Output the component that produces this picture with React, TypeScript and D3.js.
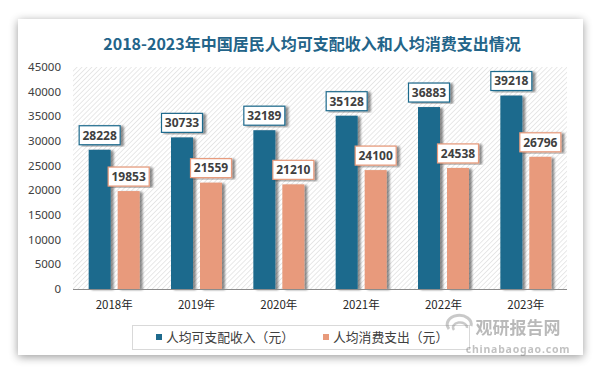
import React from "react";
import * as d3 from "d3";

const years = ["2018年", "2019年", "2020年", "2021年", "2022年", "2023年"];
const income = [28228, 30733, 32189, 35128, 36883, 39218];
const consumption = [19853, 21559, 21210, 24100, 24538, 26796];
const yTicks = [0, 5000, 10000, 15000, 20000, 25000, 30000, 35000, 40000, 45000];
const seriesNames = ["人均可支配收入（元）", "人均消费支出（元）"];
const title = "2018-2023年中国居民人均可支配收入和人均消费支出情况";

const BLUE = "#1e6a8d";
const ORANGE = "#e89a7b";
const CJK = "'Noto Sans CJK SC', 'Noto Sans', sans-serif";
const NUM = "'Noto Sans', 'Open Sans', sans-serif";

export default function App() {
  const W = 600, H = 376;
  const plotL = 73, plotR = 567, plotT = 67, plotB = 289;
  const x = d3.scaleBand<string>().domain(years).range([plotL, plotR]).paddingInner(0).paddingOuter(0);
  const y = d3.scaleLinear().domain([0, 45000]).range([plotB, plotT]);
  const barW = 22, gap = 7;
  const groupW = barW * 2 + gap;
  const series = [
    { vals: income, color: BLUE },
    { vals: consumption, color: ORANGE },
  ];
  return (
    <div style={{ position: "absolute", left: 0, top: 0, width: W, height: H, background: "#fff" }}>
      <svg width={W} height={H} style={{ display: "block" }}>
        <defs>
          <pattern id="hatch" patternUnits="userSpaceOnUse" width="3.5" height="3.5" patternTransform="rotate(45)">
            <rect width="3.5" height="3.5" fill="#ffffff" />
            <line x1="0" y1="0" x2="0" y2="3.5" stroke="#d6d6d6" strokeWidth="1.1" />
          </pattern>
          <filter id="cardShadow" x="-10%" y="-10%" width="120%" height="125%">
            <feGaussianBlur in="SourceAlpha" stdDeviation="5" />
            <feOffset dx="0" dy="2" result="b" />
            <feComponentTransfer><feFuncA type="linear" slope="0.4" /></feComponentTransfer>
            <feMerge><feMergeNode /><feMergeNode in="SourceGraphic" /></feMerge>
          </filter>
          <filter id="barShadow" x="-30%" y="-10%" width="170%" height="120%">
            <feGaussianBlur in="SourceAlpha" stdDeviation="1.2" />
            <feOffset dx="2.5" dy="1" result="b" />
            <feComponentTransfer><feFuncA type="linear" slope="0.45" /></feComponentTransfer>
            <feMerge><feMergeNode /><feMergeNode in="SourceGraphic" /></feMerge>
          </filter>
        </defs>
        <rect x={18} y={19} width={565} height={336} fill="#fff" filter="url(#cardShadow)" />
        <text x={312} y={50} textAnchor="middle" fontFamily={CJK} fontWeight="bold" fontSize={16} fill="#236489">
          {title}
        </text>
        <rect x={plotL} y={plotT} width={plotR - plotL} height={plotB - plotT} fill="url(#hatch)" />
        {yTicks.map((t) => (
          <text key={t} x={61} y={y(t) + 4} textAnchor="end" fontFamily={NUM} fontSize={11.5} fill="#404040">
            {t}
          </text>
        ))}
        {years.map((yr, i) => {
          const start = (x(yr) as number) + (x.bandwidth() - groupW) / 2;
          return (
            <g key={yr}>
              {series.map((s, j) => {
                const bx = start + j * (barW + gap);
                const v = s.vals[i];
                const top = y(v);
                const lw = 41, lh = 19;
                const cx = bx + barW / 2;
                return (
                  <g key={j}>
                    <rect x={bx} y={top} width={barW} height={plotB - top} fill={s.color} filter="url(#barShadow)" />
                    <rect x={cx - lw / 2} y={top - 5 - lh} width={lw} height={lh} fill="#fff" stroke={s.color} strokeWidth={1.2} filter="url(#barShadow)" />
                    <text x={cx} y={top - 5 - lh / 2 + 4.3} textAnchor="middle" fontFamily={NUM} fontWeight="bold" fontSize={12} fill="#404040">
                      {v}
                    </text>
                  </g>
                );
              })}
              <text x={(x(yr) as number) + x.bandwidth() / 2} y={309} textAnchor="middle" fontFamily={CJK} fontSize={11.5} fill="#262626">
                {yr}
              </text>
            </g>
          );
        })}
        <line x1={plotL} x2={plotR} y1={plotB + 0.5} y2={plotB + 0.5} stroke="#8c8c8c" strokeWidth={1} />
        <rect x={132.5} y={325.5} width={337} height={24} fill="#fff" stroke="#d9d9d9" strokeWidth={1} />
        <rect x={156} y={334} width={6} height={6} fill={BLUE} />
        <text x={166} y={342} fontFamily={CJK} fontSize={12.8} fill="#404040">{seriesNames[0]}</text>
        <rect x={323} y={334} width={6} height={6} fill={ORANGE} />
        <text x={333} y={342} fontFamily={CJK} fontSize={12.8} fill="#404040">{seriesNames[1]}</text>
        <g opacity={0.45}>
          <path d="M449,329 a12,9 0 1,1 22,-3" fill="none" stroke="#8a8a8a" strokeWidth={3} />
          <path d="M454,330 a7,5 0 1,1 13,-2" fill="none" stroke="#8a8a8a" strokeWidth={2.5} />
          <text x={518} y={334} textAnchor="middle" fontFamily={CJK} fontWeight="bold" fontSize={17} fill="#666">观研报告网</text>
          <text x={518} y={352.5} textAnchor="middle" fontFamily={NUM} fontWeight="bold" fontSize={10.5} fill="#777" letterSpacing={0.8}>chinabaogao.com</text>
        </g>
      </svg>
    </div>
  );
}
